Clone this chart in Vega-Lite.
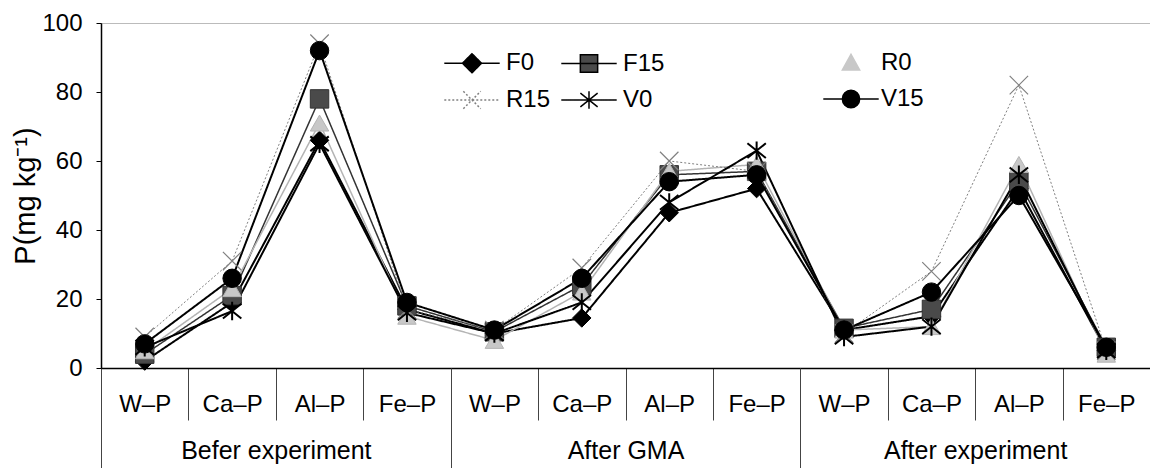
{
  "$schema": "https://vega.github.io/schema/vega-lite/v6.json",
  "width": 1049,
  "height": 345,
  "autosize": {"type": "none"},
  "padding": {"left": 101, "top": 23, "right": 0, "bottom": 100},
  "background": "white",
  "config": {
    "font": "Liberation Sans",
    "view": {"stroke": "#777777", "strokeDash": [1, 1], "strokeWidth": 1}
  },
  "data": {
    "values": [
      {"group": "Befer experiment", "cat": "Befer experiment / W–P", "s": "F0", "v": 2},
      {"group": "Befer experiment", "cat": "Befer experiment / W–P", "s": "F15", "v": 4},
      {"group": "Befer experiment", "cat": "Befer experiment / W–P", "s": "R0", "v": 5},
      {"group": "Befer experiment", "cat": "Befer experiment / W–P", "s": "R15", "v": 9},
      {"group": "Befer experiment", "cat": "Befer experiment / W–P", "s": "V0", "v": 6},
      {"group": "Befer experiment", "cat": "Befer experiment / W–P", "s": "V15", "v": 7},
      {"group": "Befer experiment", "cat": "Befer experiment / Ca–P", "s": "F0", "v": 19},
      {"group": "Befer experiment", "cat": "Befer experiment / Ca–P", "s": "F15", "v": 21},
      {"group": "Befer experiment", "cat": "Befer experiment / Ca–P", "s": "R0", "v": 23},
      {"group": "Befer experiment", "cat": "Befer experiment / Ca–P", "s": "R15", "v": 31},
      {"group": "Befer experiment", "cat": "Befer experiment / Ca–P", "s": "V0", "v": 16.5},
      {"group": "Befer experiment", "cat": "Befer experiment / Ca–P", "s": "V15", "v": 26},
      {"group": "Befer experiment", "cat": "Befer experiment / Al–P", "s": "F0", "v": 66},
      {"group": "Befer experiment", "cat": "Befer experiment / Al–P", "s": "F15", "v": 78},
      {"group": "Befer experiment", "cat": "Befer experiment / Al–P", "s": "R0", "v": 71},
      {"group": "Befer experiment", "cat": "Befer experiment / Al–P", "s": "R15", "v": 94},
      {"group": "Befer experiment", "cat": "Befer experiment / Al–P", "s": "V0", "v": 65},
      {"group": "Befer experiment", "cat": "Befer experiment / Al–P", "s": "V15", "v": 92},
      {"group": "Befer experiment", "cat": "Befer experiment / Fe–P", "s": "F0", "v": 17},
      {"group": "Befer experiment", "cat": "Befer experiment / Fe–P", "s": "F15", "v": 18},
      {"group": "Befer experiment", "cat": "Befer experiment / Fe–P", "s": "R0", "v": 15},
      {"group": "Befer experiment", "cat": "Befer experiment / Fe–P", "s": "R15", "v": 17},
      {"group": "Befer experiment", "cat": "Befer experiment / Fe–P", "s": "V0", "v": 16},
      {"group": "Befer experiment", "cat": "Befer experiment / Fe–P", "s": "V15", "v": 19},
      {"group": "After GMA", "cat": "After GMA / W–P", "s": "F0", "v": 10},
      {"group": "After GMA", "cat": "After GMA / W–P", "s": "F15", "v": 10.5},
      {"group": "After GMA", "cat": "After GMA / W–P", "s": "R0", "v": 8},
      {"group": "After GMA", "cat": "After GMA / W–P", "s": "R15", "v": 11},
      {"group": "After GMA", "cat": "After GMA / W–P", "s": "V0", "v": 10},
      {"group": "After GMA", "cat": "After GMA / W–P", "s": "V15", "v": 11},
      {"group": "After GMA", "cat": "After GMA / Ca–P", "s": "F0", "v": 14.5},
      {"group": "After GMA", "cat": "After GMA / Ca–P", "s": "F15", "v": 24},
      {"group": "After GMA", "cat": "After GMA / Ca–P", "s": "R0", "v": 22},
      {"group": "After GMA", "cat": "After GMA / Ca–P", "s": "R15", "v": 29},
      {"group": "After GMA", "cat": "After GMA / Ca–P", "s": "V0", "v": 19},
      {"group": "After GMA", "cat": "After GMA / Ca–P", "s": "V15", "v": 26},
      {"group": "After GMA", "cat": "After GMA / Al–P", "s": "F0", "v": 45},
      {"group": "After GMA", "cat": "After GMA / Al–P", "s": "F15", "v": 56},
      {"group": "After GMA", "cat": "After GMA / Al–P", "s": "R0", "v": 57},
      {"group": "After GMA", "cat": "After GMA / Al–P", "s": "R15", "v": 60},
      {"group": "After GMA", "cat": "After GMA / Al–P", "s": "V0", "v": 48},
      {"group": "After GMA", "cat": "After GMA / Al–P", "s": "V15", "v": 54},
      {"group": "After GMA", "cat": "After GMA / Fe–P", "s": "F0", "v": 52},
      {"group": "After GMA", "cat": "After GMA / Fe–P", "s": "F15", "v": 57},
      {"group": "After GMA", "cat": "After GMA / Fe–P", "s": "R0", "v": 59},
      {"group": "After GMA", "cat": "After GMA / Fe–P", "s": "R15", "v": 57},
      {"group": "After GMA", "cat": "After GMA / Fe–P", "s": "V0", "v": 63},
      {"group": "After GMA", "cat": "After GMA / Fe–P", "s": "V15", "v": 56},
      {"group": "After experiment", "cat": "After experiment / W–P", "s": "F0", "v": 11},
      {"group": "After experiment", "cat": "After experiment / W–P", "s": "F15", "v": 11.5},
      {"group": "After experiment", "cat": "After experiment / W–P", "s": "R0", "v": 11},
      {"group": "After experiment", "cat": "After experiment / W–P", "s": "R15", "v": 10},
      {"group": "After experiment", "cat": "After experiment / W–P", "s": "V0", "v": 9},
      {"group": "After experiment", "cat": "After experiment / W–P", "s": "V15", "v": 11},
      {"group": "After experiment", "cat": "After experiment / Ca–P", "s": "F0", "v": 15},
      {"group": "After experiment", "cat": "After experiment / Ca–P", "s": "F15", "v": 17},
      {"group": "After experiment", "cat": "After experiment / Ca–P", "s": "R0", "v": 12},
      {"group": "After experiment", "cat": "After experiment / Ca–P", "s": "R15", "v": 28},
      {"group": "After experiment", "cat": "After experiment / Ca–P", "s": "V0", "v": 12},
      {"group": "After experiment", "cat": "After experiment / Ca–P", "s": "V15", "v": 22},
      {"group": "After experiment", "cat": "After experiment / Al–P", "s": "F0", "v": 52},
      {"group": "After experiment", "cat": "After experiment / Al–P", "s": "F15", "v": 54},
      {"group": "After experiment", "cat": "After experiment / Al–P", "s": "R0", "v": 59},
      {"group": "After experiment", "cat": "After experiment / Al–P", "s": "R15", "v": 82},
      {"group": "After experiment", "cat": "After experiment / Al–P", "s": "V0", "v": 56},
      {"group": "After experiment", "cat": "After experiment / Al–P", "s": "V15", "v": 50},
      {"group": "After experiment", "cat": "After experiment / Fe–P", "s": "F0", "v": 5},
      {"group": "After experiment", "cat": "After experiment / Fe–P", "s": "F15", "v": 6},
      {"group": "After experiment", "cat": "After experiment / Fe–P", "s": "R0", "v": 4},
      {"group": "After experiment", "cat": "After experiment / Fe–P", "s": "R15", "v": 5},
      {"group": "After experiment", "cat": "After experiment / Fe–P", "s": "V0", "v": 5},
      {"group": "After experiment", "cat": "After experiment / Fe–P", "s": "V15", "v": 6}
    ]
  },
  "layer": [
    {
      "encoding": {
        "x": {
          "field": "cat",
          "type": "nominal",
          "sort": null,
          "bandPosition": 0.5,
          "scale": {"type": "band", "paddingInner": 0, "paddingOuter": 0},
          "axis": {
            "title": null,
            "orient": "bottom",
            "offset": 0,
            "labelExpr": "split(datum.label, ' / ')[1]",
            "labelAngle": 0,
            "tickBand": "extent",
            "tickSize": 52,
            "tickColor": "#444444",
            "tickWidth": 1,
            "labelPadding": -9,
            "labelBaseline": "alphabetic",
            "labelFontSize": 24,
            "labelColor": "black",
            "domainColor": "black",
            "domainWidth": 1.5
          }
        },
        "y": {
          "field": "v",
          "type": "quantitative",
          "scale": {"domain": [0, 100]},
          "axis": {
            "title": "P(mg kg⁻¹)",
            "values": [0, 20, 40, 60, 80, 100],
            "grid": false,
            "tickSize": 5,
            "tickColor": "black",
            "labelPadding": 14,
            "labelFontSize": 24,
            "labelColor": "black",
            "titleFontSize": 29,
            "titleFontWeight": "normal",
            "titleColor": "black",
            "titlePadding": 1,
            "domainColor": "black",
            "domainWidth": 1.5
          }
        }
      },
      "layer": [
        {
          "mark": {"type": "line"},
          "encoding": {
            "stroke": {
              "field": "s",
              "type": "nominal",
              "scale": {
                "domain": ["F0", "F15", "R0", "R15", "V0", "V15"],
                "range": ["black", "#333333", "#b4b4b4", "#808080", "black", "black"]
              },
              "legend": null
            },
            "strokeWidth": {
              "condition": [
                {"test": "datum.s == 'R15'", "value": 1},
                {"test": "datum.s == 'R0' || datum.s == 'F15'", "value": 1.5}
              ],
              "value": 2
            },
            "strokeDash": {
              "condition": {"test": "datum.s == 'R15'", "value": [2, 2]},
              "value": [1, 0]
            }
          }
        },
        {
          "mark": {"type": "point", "filled": true, "size": 340, "opacity": 1},
          "encoding": {
            "shape": {
              "field": "s",
              "type": "nominal",
              "scale": {
                "domain": ["F0", "F15", "R0", "R15", "V0", "V15"],
                "range": ["diamond", "square", "triangle-up", "M-1,-1L1,1M-1,1L1,-1", "M-1,-0.8L1,0.8M-1,0.8L1,-0.8M0,-1L0,1", "circle"]
              },
              "legend": null
            },
            "fill": {
              "field": "s",
              "type": "nominal",
              "scale": {
                "domain": ["F0", "F15", "R0", "R15", "V0", "V15"],
                "range": ["black", "#4a4a4a", "#c8c8c8", "transparent", "transparent", "black"]
              },
              "legend": null
            },
            "stroke": {
              "field": "s",
              "type": "nominal",
              "scale": {
                "domain": ["F0", "F15", "R0", "R15", "V0", "V15"],
                "range": ["black", "#333333", "#b4b4b4", "#808080", "black", "black"]
              },
              "legend": null
            },
            "strokeWidth": {
              "condition": [
                {"test": "datum.s == 'V0'", "value": 2},
                {"test": "datum.s == 'R15'", "value": 1.2}
              ],
              "value": 1
            }
          }
        },
        {
          "transform": [{"filter": "false"}],
          "mark": {"type": "point", "filled": true, "opacity": 1, "strokeWidth": 1.6},
          "encoding": {
            "shape": {
              "field": "s",
              "type": "nominal",
              "scale": {
                "domain": ["F0", "F15", "R15", "V0"],
                "range": ["M-3.2,0L3.2,0M0,-1.1L1.1,0L0,1.1L-1.1,0Z", "M-3.2,0L3.2,0M-1,-1L1,-1L1,1L-1,1Z", "M-3.2,0L3.2,0M-1,-1L1,1M-1,1L1,-1", "M-3.2,0L3.2,0M-1,-0.8L1,0.8M-1,0.8L1,-0.8M0,-1L0,1"]
              },
              "legend": {
                "title": null,
                "orient": "none",
                "legendX": 359,
                "legendY": 28,
                "padding": 0,
                "columns": 2,
                "direction": "horizontal",
                "symbolSize": 300,
                "symbolOpacity": 1,
                "labelFontSize": 24,
                "labelColor": "black",
                "labelOffset": 22,
                "labelLimit": 300,
                "rowPadding": 12,
                "columnPadding": 7
              }
            },
            "fill": {
              "field": "s",
              "type": "nominal",
              "scale": {"domain": ["F0", "F15", "R15", "V0"], "range": ["black", "#4a4a4a", "transparent", "transparent"]}
            },
            "stroke": {
              "field": "s",
              "type": "nominal",
              "scale": {"domain": ["F0", "F15", "R15", "V0"], "range": ["black", "black", "#808080", "black"]}
            },
            "strokeDash": {
              "field": "s",
              "type": "nominal",
              "scale": {"domain": ["F0", "F15", "R15", "V0"], "range": [[1, 0], [1, 0], [2, 2], [1, 0]]}
            }
          }
        },
        {
          "transform": [{"filter": "false"}],
          "mark": {"type": "point", "filled": true, "opacity": 1, "strokeWidth": 2},
          "encoding": {
            "shape": {
              "field": "s",
              "type": "nominal",
              "scale": {
                "domain": ["R0", "V15"],
                "range": ["M0,-1L1,0.8L-1,0.8Z", "M-3.2,0L3.2,0M-1,0A1,1,0,1,0,1,0A1,1,0,1,0,-1,0Z"]
              },
              "legend": {
                "title": null,
                "orient": "none",
                "legendX": 738,
                "legendY": 28,
                "padding": 0,
                "columns": 1,
                "direction": "vertical",
                "symbolSize": 300,
                "symbolOpacity": 1,
                "labelFontSize": 24,
                "labelColor": "black",
                "labelOffset": 18,
                "labelLimit": 300,
                "rowPadding": 12
              }
            },
            "fill": {
              "field": "s",
              "type": "nominal",
              "scale": {"domain": ["R0", "V15"], "range": ["#c8c8c8", "black"]}
            },
            "stroke": {
              "field": "s",
              "type": "nominal",
              "scale": {"domain": ["R0", "V15"], "range": ["#c8c8c8", "black"]}
            }
          }
        }
      ],
      "resolve": {
        "scale": {"shape": "independent", "fill": "independent", "stroke": "independent", "strokeDash": "independent"},
        "legend": {"shape": "independent", "fill": "independent", "stroke": "independent", "strokeDash": "independent"}
      }
    },
    {
      "data": {"values": [{"group": "Befer experiment"}, {"group": "After GMA"}, {"group": "After experiment"}]},
      "mark": {"type": "point", "opacity": 0},
      "encoding": {
        "x": {
          "field": "group",
          "type": "nominal",
          "sort": null,
          "scale": {"type": "band", "paddingInner": 0, "paddingOuter": 0},
          "axis": {
            "title": null,
            "orient": "bottom",
            "offset": 0,
            "domain": false,
            "labelAngle": 0,
            "labelLimit": 500,
            "tickBand": "extent",
            "tickSize": 100,
            "tickColor": "#444444",
            "tickWidth": 1,
            "labelPadding": -10,
            "labelBaseline": "alphabetic",
            "labelFontSize": 25,
            "labelColor": "black"
          }
        }
      }
    }
  ],
  "resolve": {"scale": {"x": "independent"}, "axis": {"x": "independent"}}
}
